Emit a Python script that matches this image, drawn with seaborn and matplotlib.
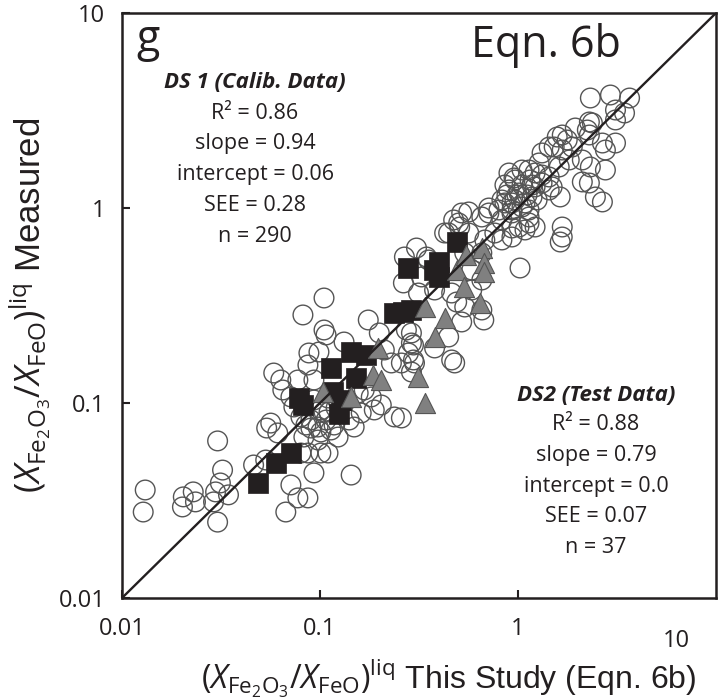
import matplotlib
matplotlib.use("Agg")
import matplotlib.pyplot as plt
import seaborn as sns
from matplotlib.ticker import NullLocator

# --- DS1 calibration data (open circles) ---
circ_x = [
    0.0131, 0.0128, 0.0204, 0.0202, 0.0229, 0.0235, 0.0304, 0.0322, 0.0314, 0.0297,
    0.0290, 0.0345, 0.0304, 0.0462, 0.0538, 0.0532, 0.0713, 0.0672, 0.0773, 0.0869,
    0.0932, 0.0801, 0.1098, 0.1437,
    0.0634, 0.0649, 0.0820, 0.1048, 0.1753, 0.1048, 0.1323, 0.1993, 0.0879, 0.0869,
    0.2113, 0.2294, 0.2966, 0.2966, 0.2896, 0.2577, 0.2896,
    0.0773, 0.0932, 0.0584, 0.0713, 0.0738, 0.0801, 0.0900, 0.0977, 0.1137, 0.1488,
    0.1404, 0.1615, 0.1815, 0.2040, 0.2375, 0.1673,
    0.0829, 0.0977, 0.1234, 0.0612, 0.0564, 0.0869, 0.101, 0.1559, 0.1880, 0.2577,
    0.0932, 0.101, 0.1073, 0.0988, 0.1048, 0.1098, 0.1073, 0.1178, 0.101, 0.0900,
    0.1111, 0.1206, 0.0849,
    0.2732, 0.2797, 0.3001, 0.2896, 0.3791, 0.4465, 0.4624, 0.4789, 0.5196, 0.6720,
    0.4902, 0.4624, 0.3791, 0.3256, 0.3452, 0.3072, 0.2638, 0.3144, 0.2669, 0.3534,
    0.4261, 0.5383, 0.6567, 0.5840, 0.6567, 0.5840, 0.5383, 0.6567, 0.4465, 0.4733,
    0.5077, 0.5196, 0.5640, 0.5018, 0.6567, 0.7126, 0.7126, 0.8010, 0.6800, 0.7640,
    0.5640, 0.8295, 0.8295, 0.9323, 0.9323, 1.085, 1.012, 1.137, 1.220, 0.9323,
    1.024,
    0.8295, 0.8590, 0.8590, 0.9000, 0.9000, 0.9544, 0.9656, 1.012, 1.048, 1.048,
    1.085, 1.137, 1.137, 1.137, 1.178, 1.178, 1.220, 1.220, 1.278, 1.323,
    1.323, 1.323, 1.437, 1.437, 1.488, 0.9323, 0.9323, 0.9884, 1.111, 1.048,
    0.8794, 1.249, 1.151, 0.9656,
    1.437, 1.523, 1.578, 1.615, 1.634, 1.673, 1.673, 1.673, 1.673, 1.634,
    1.773, 1.815, 1.880, 1.947, 2.113, 2.240, 2.294, 2.294, 2.294, 2.320,
    2.320, 2.375, 2.460, 2.669, 2.669, 2.764, 2.764, 2.931, 3.108, 3.108,
    3.108, 3.452, 3.660, 2.113,
]
circ_y = [
    0.0358, 0.0276, 0.0330, 0.0293, 0.0350, 0.0311, 0.0639, 0.0453, 0.0389, 0.0350,
    0.0311, 0.0338, 0.0245, 0.0481, 0.0744, 0.0510, 0.0380, 0.0276, 0.0326, 0.0326,
    0.0438, 0.0554, 0.0554, 0.0427,
    0.1312, 0.1166, 0.2828, 0.3455, 0.2665, 0.2368, 0.2055, 0.2286, 0.1805, 0.1566,
    0.1870, 0.1604, 0.1983, 0.1662, 0.1442, 0.1604, 0.2286,
    0.1312, 0.1312, 0.1425, 0.1074, 0.0954, 0.0848, 0.0818, 0.0753, 0.0727, 0.0753,
    0.0818, 0.0889, 0.1074, 0.0977, 0.0848, 0.1166,
    0.0669, 0.0646, 0.0669, 0.0702, 0.0789, 0.0554, 0.0554, 0.1125, 0.0921, 0.0838,
    0.1036, 0.0921, 0.2233, 0.1826, 0.0899, 0.1061, 0.0818, 0.0771, 0.0710, 0.0744,
    0.0899, 0.0943, 0.0771,
    0.2368, 0.1805, 0.1604, 0.2031, 0.1915, 0.2180, 0.1662, 0.1604, 0.2603, 0.2665,
    0.3296, 0.3665, 0.3797, 0.4429, 0.5607, 0.6235, 0.4126, 0.3665, 0.5607, 0.5412,
    0.7443, 0.3106, 0.2999, 0.3797, 0.4273, 0.4809, 0.5879, 0.5879, 0.7443, 0.8683,
    0.7989, 0.9428, 0.9540, 0.8377, 0.8991, 1.000, 0.9428, 0.9766, 0.6855, 0.7443,
    0.7443, 0.6855, 0.8683, 0.9428, 0.7895, 0.7712, 0.7989, 0.8991, 0.7989, 0.7100,
    0.4923,
    1.099, 1.061, 1.312, 1.512, 1.237, 1.425, 1.099, 1.194, 1.566, 1.012,
    1.061, 1.566, 0.9766, 0.8377, 1.312, 1.139, 1.512, 1.282, 1.702, 1.915,
    1.476, 1.343, 1.442, 1.237, 1.282, 0.9766, 1.061, 1.166, 1.166, 1.312,
    1.166, 1.099, 1.392, 1.392,
    2.055, 2.055, 2.312, 1.623, 1.139, 2.368, 1.983, 0.7989, 0.7100, 0.6692,
    2.232, 1.763, 2.055, 2.572, 1.763, 2.512, 2.761, 2.368, 1.343, 3.665,
    1.623, 2.729, 1.139, 2.154, 1.074, 1.983, 1.566, 3.797, 3.180, 2.828,
    2.154, 3.070, 3.665, 1.360,
]

# --- DS2 test data: black squares and grey triangles ---
sq_x = [0.0485, 0.0598, 0.0713, 0.0820, 0.0782, 0.1137, 0.1278, 0.1249, 0.1164, 0.1437,
        0.1712, 0.1523, 0.2375, 0.2638, 0.2896, 0.2797, 0.3972, 0.3972, 0.3747, 0.4902]
sq_y = [0.0389, 0.0492, 0.0554, 0.0977, 0.1061, 0.1512, 0.1036, 0.0878, 0.1139, 0.1826,
        0.1763, 0.1343, 0.2894, 0.2929, 0.2999, 0.4923, 0.5286, 0.4429, 0.4809, 0.6692]

tri_x = [0.3372, 0.3791, 0.3144, 0.3372, 0.1970, 0.1858, 0.2040, 0.1437, 0.1036, 0.6567,
         0.6720, 0.6720, 0.4902, 0.5321, 0.6413, 0.4261, 0.5480]
tri_y = [0.3106, 0.2180, 0.1359, 0.1000, 0.1915, 0.1392, 0.1312, 0.1074, 0.1139, 0.6235,
         0.5223, 0.4697, 0.4809, 0.3935, 0.3257, 0.2730, 0.5740]

ds1_lines = ["R² = 0.86", "slope = 0.94", "intercept = 0.06", "SEE = 0.28", "n = 290"]
ds2_lines = ["R² = 0.88", "slope = 0.79", "intercept = 0.0", "SEE = 0.07", "n = 37"]

sns.set_style("ticks")
plt.rcParams['font.family'] = ['Open Sans', 'DejaVu Sans']
plt.rcParams['mathtext.fontset'] = 'custom'
plt.rcParams['mathtext.rm'] = 'Open Sans'
plt.rcParams['mathtext.it'] = 'Open Sans:italic'

ink = '#231f20'
fig = plt.figure(figsize=(7.18, 6.99), dpi=100)
ax = fig.add_axes([0.1699, 0.1445, 0.8273, 0.8369])

sns.scatterplot(x=circ_x, y=circ_y, marker='o', s=200, facecolors='none',
                edgecolor='#555555', linewidth=1.0, ax=ax, zorder=2)
sns.scatterplot(x=sq_x, y=sq_y, marker='s', s=205, color=ink,
                edgecolor=ink, linewidth=0.5, ax=ax, zorder=3)
sns.scatterplot(x=tri_x, y=tri_y, marker='^', s=210, color='#808080',
                edgecolor='#555555', linewidth=0.8, ax=ax, zorder=4)
ax.plot([0.01, 10], [0.01, 10], color=ink, lw=1.7, zorder=5)

ax.set_xscale('log')
ax.set_yscale('log')
ax.set_xlim(0.01, 10)
ax.set_ylim(0.01, 10)
ax.set_xticks([0.01, 0.1, 1])
ax.set_xticklabels(['0.01', '0.1', '1'])
ax.set_yticks([0.01, 0.1, 1, 10])
ax.set_yticklabels(['0.01', '0.1', '1', '10'])
ax.xaxis.set_minor_locator(NullLocator())
ax.yaxis.set_minor_locator(NullLocator())
ax.tick_params(direction='in', length=6, width=1.5, labelsize=17, colors=ink)
ax.tick_params(axis='x', pad=14)
ax.tick_params(axis='y', pad=12)
for s in ax.spines.values():
    s.set_linewidth(1.8)
    s.set_color(ink)

# odd, lowered "10" label on the x axis
ax.text(0.933, -0.073, '10', transform=ax.transAxes, ha='center', va='center',
        fontsize=17, color=ink)

lab = r'$(X_{\mathrm{Fe_2O_3}}/X_{\mathrm{FeO}})^{\mathrm{liq}}$'
ax.text(0.550, -0.155, lab + ' This Study (Eqn. 6b)', transform=ax.transAxes,
        ha='center', va='baseline', fontsize=23, color=ink,
        family=['Liberation Sans', 'DejaVu Sans'])
ax.text(-0.155, 0.50, lab + ' Measured', transform=ax.transAxes, rotation=90,
        ha='center', va='center', fontsize=25, color=ink,
        family=['Liberation Sans', 'DejaVu Sans'])

ax.text(0.025, 0.955, 'g', transform=ax.transAxes, ha='left', va='center',
        fontsize=31, color=ink)
ax.text(0.714, 0.945, 'Eqn. 6b', transform=ax.transAxes, ha='center', va='center',
        fontsize=31, color=ink)

# stats blocks
ax.text(0.224, 0.882, 'DS 1 (Calib. Data)', transform=ax.transAxes, ha='center',
        va='center', fontsize=16, fontweight='bold', style='italic', color=ink)
for i, t in enumerate(ds1_lines):
    ax.text(0.224, 0.829 - i * 0.0528, t, transform=ax.transAxes, ha='center',
            va='center', fontsize=15.5, color=ink)

ax.text(0.798, 0.347, 'DS2 (Test Data)', transform=ax.transAxes, ha='center',
        va='center', fontsize=16, fontweight='bold', style='italic', color=ink)
for i, t in enumerate(ds2_lines):
    ax.text(0.798, 0.296 - i * 0.0523, t, transform=ax.transAxes, ha='center',
            va='center', fontsize=15.5, color=ink)

fig.savefig('out.png', dpi=100)
